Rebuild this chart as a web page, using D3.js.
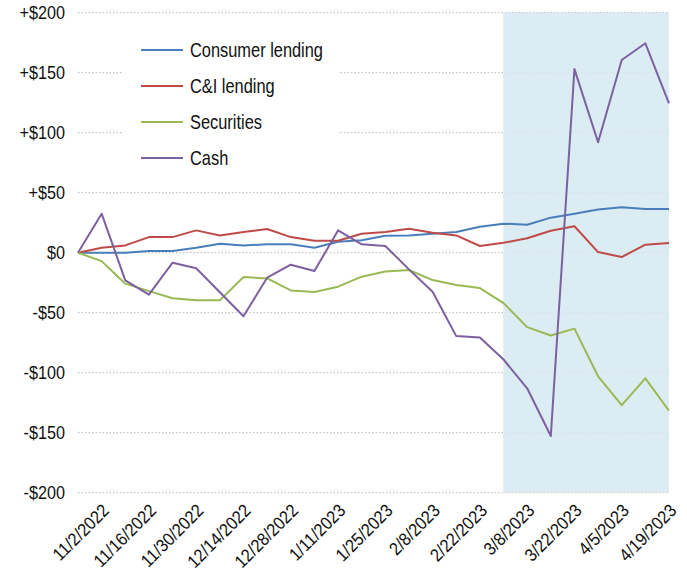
<!doctype html>
<html>
  <head>
    <meta charset="utf-8"/>
    <title>Weekly change by asset type</title>
    <style>
      body, html {
        margin: 0;
        padding: 0;
        background: white;
        font-family: "Liberation Sans Narrow", "Arial Narrow", "Liberation Sans", sans-serif;
      }
      .grid line {
        stroke: #b8b8b8;
        stroke-width: 1;
        stroke-dasharray: 1.5,2;
      }
      .tick text {
        font-size: 18px;
        fill: #111;
      }
      .legend text {
        font-size: 20.5px;
        fill: #111;
      }
    </style>
    <script src="https://d3js.org/d3.v7.min.js"></script>
  </head>
  <body>
    <svg width="687" height="577"></svg>
    <script>
      // weekly dates; first week is the baseline (unlabelled)
      var dates = ["10/26/2022","11/2/2022","11/9/2022","11/16/2022","11/23/2022","11/30/2022",
        "12/7/2022","12/14/2022","12/21/2022","12/28/2022","1/4/2023","1/11/2023","1/18/2023",
        "1/25/2023","2/1/2023","2/8/2023","2/15/2023","2/22/2023","3/1/2023","3/8/2023",
        "3/15/2023","3/22/2023","3/29/2023","4/5/2023","4/12/2023","4/19/2023"];

      var consumer = [0, 0, 0, 1.4, 1.4, 4.2, 7.5, 6, 7, 7, 4.2, 9.2, 10.3, 14.2, 14.4, 15.8,
        17.2, 21.7, 24.2, 23.3, 29.2, 32.5, 36, 37.8, 36.4, 36.4];
      var cni = [0, 4.2, 6.1, 13, 13, 18.6, 14.4, 17.2, 19.7, 13, 10, 10, 15.8, 17.2, 20, 16.7,
        14.4, 5.6, 8.3, 12, 18.3, 22, 0.5, -3.6, 6.7, 8];
      var securities = [0, -7, -25.8, -32, -38, -39.7, -39.7, -20.3, -21.4, -31.4, -32.8, -28.3,
        -20, -15.6, -14.4, -22.8, -27, -29.5, -42, -62, -69, -63.3, -103, -127, -104.7, -131.7];
      var cash = [0, 32.5, -23, -35, -8.3, -13, -33, -53, -20.8, -10, -15.3, 18.6, 7, 5.6, -13.9,
        -32.5, -69.5, -70.6, -89, -113, -152.8, 153, 92, 160.6, 174.5, 124.5];

      var seriesNames = ["Consumer lending", "C&I lending", "Securities", "Cash"];
      var seriesColors = ["#4a7ebb", "#be4b48", "#98b954", "#7d60a0"];
      var yTicks = [-200, -150, -100, -50, 0, 50, 100, 150, 200];
      var shadeStart = "3/1/2023", shadeEnd = "4/19/2023";

      var series = [consumer, cni, securities, cash];

      var svg = d3.select("svg");
      var plotLeft = 78, plotRight = 669, plotTop = 12.7, plotBottom = 492.7;
      // squeeze text a bit to look like the condensed face of the original
      var narrowLegend = 0.8, narrowAxis = 0.9;

      var x = d3.scalePoint().domain(dates).range([plotLeft, plotRight]);
      var y = d3.scaleLinear().domain([-200, 200]).range([plotBottom, plotTop]);

      // shaded period
      svg.append("rect")
        .attr("x", x(shadeStart))
        .attr("y", y(200))
        .attr("width", x(shadeEnd) - x(shadeStart))
        .attr("height", y(-200) - y(200))
        .attr("fill", "#dbecf2");

      // gridlines
      svg.append("g")
        .attr("class", "grid")
        .selectAll("line")
        .data(yTicks)
        .enter().append("line")
          .attr("x1", plotLeft)
          .attr("x2", plotRight)
          .attr("y1", function(d) { return y(d); })
          .attr("y2", function(d) { return y(d); });

      // shade again over grid, so grid looks faint inside it
      svg.append("rect")
        .attr("x", x(shadeStart))
        .attr("y", y(200))
        .attr("width", x(shadeEnd) - x(shadeStart))
        .attr("height", y(-200) - y(200))
        .attr("fill", "#dbecf2")
        .attr("opacity", 0.8);

      // y axis labels
      var fmt = function(v) {
        if (v > 0) return "+$" + v;
        if (v < 0) return "-$" + (-v);
        return "$0";
      };
      var yAxis = svg.append("g")
        .attr("transform", "translate(" + (plotLeft - 13) + ",0)")
        .call(d3.axisLeft(y).tickValues(yTicks).tickFormat(fmt).tickSize(0).tickPadding(0));
      yAxis.select(".domain").remove();
      yAxis.selectAll("text")
        .style("font-family", "inherit")
        .attr("x", 0)
        .attr("transform", "scale(" + narrowAxis + ",1)");

      // x axis labels
      var xAxis = svg.append("g")
        .attr("transform", "translate(0," + plotBottom + ")")
        .call(d3.axisBottom(x)
          .tickValues(dates.filter(function(d, i) { return i % 2 == 1; }))
          .tickSize(0).tickPadding(0));
      xAxis.select(".domain").remove();
      xAxis.selectAll("text")
        .style("text-anchor", "end")
        .style("font-family", "inherit")
        .attr("dy", 0)
        .attr("y", 0)
        .attr("transform", "translate(8,19) rotate(-45) scale(" + narrowAxis + ",1)");

      // legend box covers the grid
      svg.append("rect")
        .attr("x", 123).attr("y", 28)
        .attr("width", 215).attr("height", 150)
        .attr("fill", "white");

      var line = d3.line()
        .x(function(d, i) { return x(dates[i]); })
        .y(function(d) { return y(d); });

      svg.append("g")
        .selectAll("path")
        .data(series)
        .enter().append("path")
          .attr("d", line)
          .attr("fill", "none")
          .attr("stroke", function(d, i) { return seriesColors[i]; })
          .attr("stroke-width", 2)
          .attr("stroke-linejoin", "round");

      var legend = svg.append("g")
        .attr("class", "legend")
        .selectAll("g")
        .data(seriesNames)
        .enter().append("g")
          .attr("transform", function(d, i) { return "translate(141," + (50 + i * 36) + ")"; });

      legend.append("line")
        .attr("x1", 0).attr("x2", 42)
        .attr("stroke", function(d, i) { return seriesColors[i]; })
        .attr("stroke-width", 2);

      legend.append("text")
        .attr("dy", "0.35em")
        .attr("transform", "translate(49,0) scale(" + narrowLegend + ",1)")
        .text(function(d) { return d; });
    </script>
  </body>
</html>
